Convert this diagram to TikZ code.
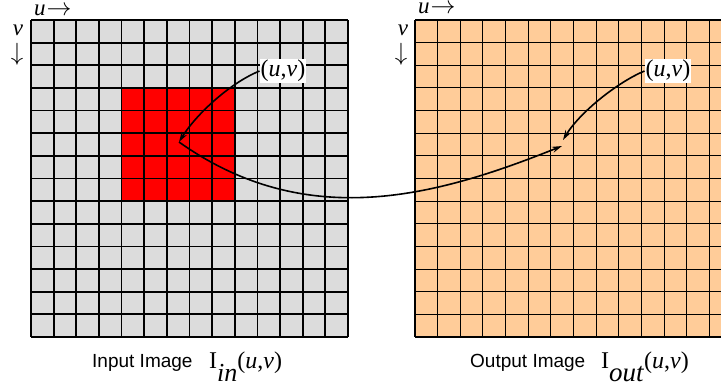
\documentclass[tikz,border=0pt]{standalone}
\usepackage{fontspec}
\setmainfont{Liberation Serif}
\newfontfamily\lsans{Liberation Sans}
\usetikzlibrary{arrows.meta}
\definecolor{gridgray}{RGB}{220,220,220}
\definecolor{peach}{RGB}{255,204,153}
\tikzset{
  leftgrid/.style={line width=1.8pt, draw=black},
  rightgrid/.style={line width=1.1pt, draw=black},
  arr/.style={line width=1.6pt, -{Stealth[length=10pt,width=6pt]}},
  uvlabel/.style={fill=white, inner sep=1pt, font=\fontsize{24}{26}\selectfont},
  axislabel/.style={inner sep=0pt, font=\fontsize{23}{24}\selectfont},
  caption/.style={inner sep=0pt, anchor=base west, font=\lsans\fontsize{19}{22}\selectfont},
  mathcap/.style={inner sep=0pt, anchor=base west, font=\fontsize{24}{26}\selectfont}
}
\begin{document}
\begin{tikzpicture}[x=1pt,y=-1pt]
\useasboundingbox (0,0) rectangle (721,389);
\clip (0,0) rectangle (721,389);
\pgfmathsetmacro{\cs}{317/14}
% left grid
\fill[gridgray] (31,20) rectangle (348,337);
\fill[red] (31+4*\cs,20+3*\cs) rectangle (31+9*\cs,20+8*\cs);
\foreach \k in {0,...,14}{
  \draw[leftgrid] (31+\k*\cs,20) -- (31+\k*\cs,337);
  \draw[leftgrid] (31,20+\k*\cs) -- (348,20+\k*\cs);
}
% right grid
\fill[peach] (415,20) rectangle (732,337);
\foreach \k in {0,...,14}{
  \draw[rightgrid] (415+\k*\cs,20) -- (415+\k*\cs,337);
  \draw[rightgrid] (415,20+\k*\cs) -- (732,20+\k*\cs);
}
% axis labels
\node[axislabel, anchor=base west, text height=11pt, text depth=0pt] (uL) at (34,15) {\textit{u}\kern1pt$\rightarrow$};
\node[axislabel, anchor=base, text height=11pt, text depth=0pt] (vL) at (18,35) {\textit{v}};
\node[axislabel, text height=17pt, text depth=5pt] (vdL) at (17,54) {$\downarrow$};
\node[axislabel, anchor=base west, text height=11pt, text depth=0pt] (uR) at (418,13.5) {\textit{u}\kern1pt$\rightarrow$};
\node[axislabel, anchor=base, text height=11pt, text depth=0pt] (vR) at (403,35) {\textit{v}};
\node[axislabel, text height=17pt, text depth=5pt] (vdR) at (401,54) {$\downarrow$};
% points
\coordinate (pin) at (179,142);
\coordinate (pout) at (562,146);
% (u,v) labels
\node[uvlabel] (lin) at (283,71) {(\textit{u},\textit{v})};
\node[uvlabel] (lout) at (668,71) {(\textit{u},\textit{v})};
% arrows
\draw[arr] (lin.west) .. controls (228,84) and (195,116) .. (pin);
\draw[arr] (lout.west) .. controls (618,82) and (580,112) .. (563,140);
\draw[arr] (pin) .. controls (306,232) and (435,197) .. (pout);
% captions
\node[caption] (capin) at (92,367) {Input Image};
\node[mathcap] (Iin) at (209,368) {I\raisebox{-13pt}{\fontsize{26}{28}\selectfont\textit{in}}(\textit{u},\textit{v})};
\node[caption] (capout) at (470,367) {Output Image};
\node[mathcap] (Iout) at (601,368) {I\raisebox{-13pt}{\fontsize{27}{28}\selectfont\textit{out}}(\textit{u},\textit{v})};
\end{tikzpicture}
\end{document}
